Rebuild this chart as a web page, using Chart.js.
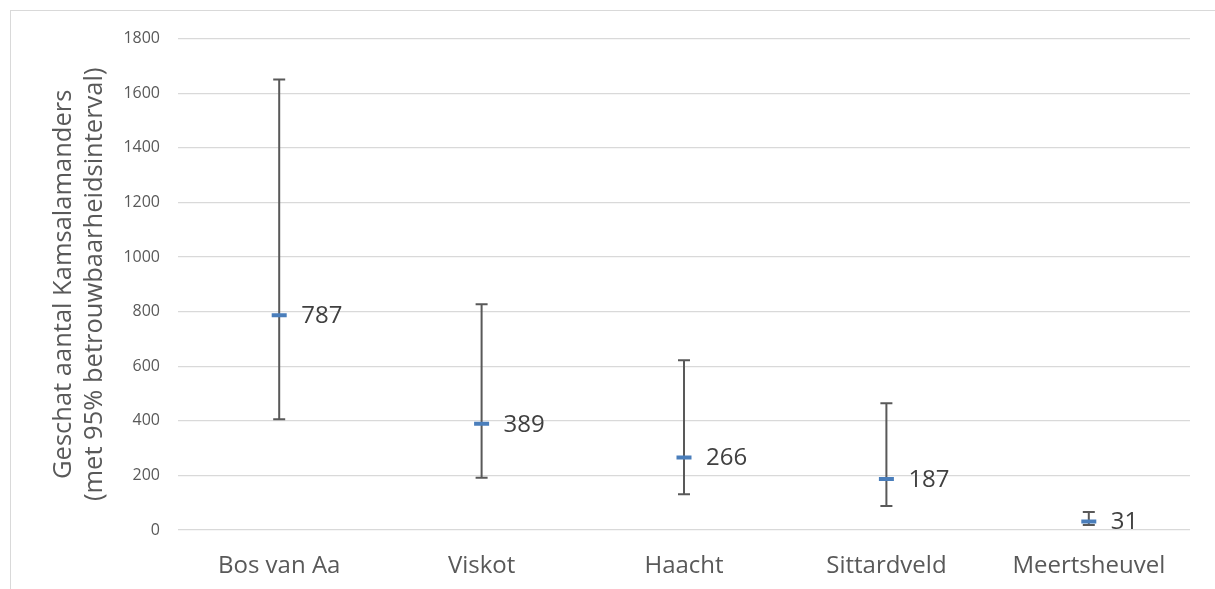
<!DOCTYPE html>
<html>
<head>
<meta charset="utf-8">
<script src="https://cdn.jsdelivr.net/npm/chart.js@4.4.1/dist/chart.umd.min.js"></script>
<style>
  html, body { margin: 0; padding: 0; background: #fff; overflow: hidden; }
  #frame { position: absolute; left: 10px; top: 10px; width: 1214px; height: 640px; border: 1px solid #d9d9d9; box-sizing: border-box; }
  #wrap { position: absolute; left: 0; top: 0; width: 1204px; height: 578px; }
</style>
</head>
<body>
<div id="frame"><div id="wrap"><canvas id="cvsSalamanders"></canvas></div></div>
<script>
// gebieden en schattingen
const gebieden = ['Bos van Aa', 'Viskot', 'Haacht', 'Sittardveld', 'Meertsheuvel'];
const schatting = [787, 389, 266, 187, 31];
const ondergrens = [406, 191, 131, 88, 18];
const bovengrens = [1650, 827, 622, 464, 66];
const yMin = 0, yMax = 1800, yStap = 200;
const titelY = ['Geschat aantal Kamsalamanders', '(met 95% betrouwbaarheidsinterval)'];

const fontFam = "'Open Sans', 'Noto Sans', sans-serif";

// ! foutbalken onder de markers tekenen
const foutbalken = {
  id: 'foutbalken',
  beforeDatasetsDraw(chart) {
    const { ctx, scales: { x, y } } = chart;
    ctx.save();
    ctx.strokeStyle = '#595959';
    ctx.lineWidth = 2;
    gebieden.forEach((g, i) => {
      const px = x.getPixelForValue(i);
      const top = y.getPixelForValue(bovengrens[i]);
      const bot = y.getPixelForValue(ondergrens[i]);
      ctx.beginPath();
      ctx.moveTo(px, top); ctx.lineTo(px, bot);
      ctx.moveTo(px - 6, top); ctx.lineTo(px + 6, top);
      ctx.moveTo(px - 6, bot); ctx.lineTo(px + 6, bot);
      ctx.stroke();
    });
    ctx.restore();
  },
  afterDatasetsDraw(chart) {
    const { ctx } = chart;
    const meta = chart.getDatasetMeta(0);
    ctx.save();
    ctx.fillStyle = '#404040';
    ctx.font = `24px ${fontFam}`;
    ctx.textBaseline = 'middle';
    ctx.textAlign = 'left';
    meta.data.forEach((pt, i) => {
      ctx.fillText(String(schatting[i]), pt.x + 22, pt.y + 1);
    });
    ctx.restore();
  }
};

const cvs = document.getElementById('cvsSalamanders');
new Chart(cvs, {
  type: 'line',
  data: {
    labels: gebieden,
    datasets: [{
      data: schatting,
      showLine: false,
      pointStyle: 'line',
      pointRadius: 7.5,
      pointHoverRadius: 7.5,
      borderWidth: 4,
      pointBorderWidth: 4,
      borderColor: '#4a7ebb',
      backgroundColor: '#4a7ebb'
    }]
  },
  options: {
    responsive: true,
    maintainAspectRatio: false,
    animation: false,
    events: [],
    layout: { padding: { top: 27, right: 25, left: 0, bottom: 0 } },
    plugins: {
      legend: { display: false },
      tooltip: { enabled: false }
    },
    scales: {
      x: {
        offset: true,
        grid: { display: false, drawTicks: false },
        border: { display: false },
        ticks: { color: '#595959', font: { family: fontFam, size: 24 }, padding: 22, maxRotation: 0 },
        afterFit(scale) { scale.height = 59; }
      },
      y: {
        min: yMin,
        max: yMax,
        grid: { color: '#d9d9d9', lineWidth: 1.3, drawTicks: false },
        border: { display: false },
        ticks: {
          stepSize: yStap, color: '#595959', font: { family: fontFam, size: 16 }, padding: 18,
          callback: v => String(v)
        },
        title: {
          display: true,
          text: titelY,
          color: '#595959',
          font: { family: fontFam, size: 25.5, lineHeight: 1.22 },
          padding: { top: 37, bottom: 0 }
        },
        afterFit(scale) { scale.width = 167; }
      }
    }
  },
  plugins: [foutbalken]
});
</script>
</body>
</html>
